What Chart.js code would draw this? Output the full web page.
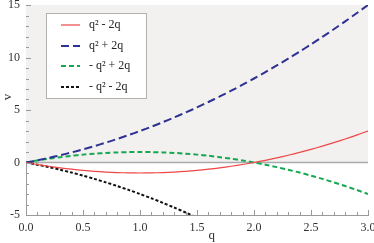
<!DOCTYPE html>
<html>
<head>
<meta charset="utf-8">
<script src="https://cdn.jsdelivr.net/npm/chart.js@4/dist/chart.umd.min.js"></script>
<style>
html,body{margin:0;padding:0;background:#fff;}
#wrap{width:374px;height:243px;position:relative;}
</style>
</head>
<body>
<div id="wrap"><canvas id="c" width="374" height="243"></canvas></div>
<script>
const qValues = [0,0.1,0.2,0.3,0.4,0.5,0.6,0.7,0.8,0.9,1.0,1.1,1.2,1.3,1.4,1.5,1.6,1.7,1.8,1.9,2.0,2.1,2.2,2.3,2.4,2.5,2.6,2.7,2.8,2.9,3.0];
const seriesA = [0,-0.19,-0.36,-0.51,-0.64,-0.75,-0.84,-0.91,-0.96,-0.99,-1,-0.99,-0.96,-0.91,-0.84,-0.75,-0.64,-0.51,-0.36,-0.19,0,0.21,0.44,0.69,0.96,1.25,1.56,1.89,2.24,2.61,3];
const seriesB = [0,0.21,0.44,0.69,0.96,1.25,1.56,1.89,2.24,2.61,3,3.41,3.84,4.29,4.76,5.25,5.76,6.29,6.84,7.41,8,8.61,9.24,9.89,10.56,11.25,11.96,12.69,13.44,14.21,15];
const seriesC = [0,0.19,0.36,0.51,0.64,0.75,0.84,0.91,0.96,0.99,1,0.99,0.96,0.91,0.84,0.75,0.64,0.51,0.36,0.19,0,-0.21,-0.44,-0.69,-0.96,-1.25,-1.56,-1.89,-2.24,-2.61,-3];
const seriesD = [0,-0.21,-0.44,-0.69,-0.96,-1.25,-1.56,-1.89,-2.24,-2.61,-3,-3.41,-3.84,-4.29,-4.76,-5.25,-5.76];
const seriesNames = ['q\u00B2 - 2q','q\u00B2 + 2q','- q\u00B2 + 2q','- q\u00B2 - 2q'];
const yTicks = [-5,0,5,10,15];
const xTicks = [0,0.5,1.0,1.5,2.0,2.5,3.0];

function pts(vals){ return vals.map((v,i)=>({x:qValues[i], y:v})); }

const FONT = '"Liberation Serif"';

const decor = {
  id:'decor',
  beforeDatasetsDraw(chart){
    const {ctx, chartArea:a, scales:{x,y}} = chart;
    ctx.save();
    const y0 = y.getPixelForValue(0), yTop = y.getPixelForValue(15);
    ctx.fillStyle = '#f2f1f0';
    ctx.fillRect(a.left, yTop, a.right - a.left, y0 - yTop);
    ctx.strokeStyle = '#aaaaaa';
    ctx.lineWidth = 1.5;
    ctx.beginPath(); ctx.moveTo(a.left, y0); ctx.lineTo(a.right, y0); ctx.stroke();
    ctx.restore();
  },
  afterDatasetsDraw(chart){
    const {ctx, chartArea:a, scales:{x,y}} = chart;
    ctx.save();
    ctx.strokeStyle = '#999999';
    ctx.lineWidth = 1;
    ctx.beginPath();
    for (let i = -5; i <= 15; i++) {
      const py = Math.round(y.getPixelForValue(i)) + 0.5;
      const len = (i % 5 === 0) ? 5 : 3;
      ctx.moveTo(a.left, py); ctx.lineTo(a.left + len, py);
    }
    for (let i = 0; i <= 30; i++) {
      const px = Math.round(x.getPixelForValue(i/10)) + 0.5;
      const len = (i % 5 === 0) ? 5 : 3;
      ctx.moveTo(px, a.bottom); ctx.lineTo(px, a.bottom - len);
    }
    ctx.stroke();

    // legend
    const bx = 46.5, by = 13.5, bw = 100, bh = 85;
    ctx.fillStyle = '#ffffff';
    ctx.fillRect(bx, by, bw, bh);
    ctx.strokeStyle = '#b0b0b0';
    ctx.lineWidth = 1;
    ctx.strokeRect(bx, by, bw, bh);
    const rows = [25, 46, 66, 87];
    chart.data.datasets.forEach((ds, i) => {
      const ry = rows[i];
      ctx.strokeStyle = ds.borderColor;
      ctx.lineWidth = ds.borderWidth;
      ctx.setLineDash(ds.borderDash || []);
      ctx.beginPath(); ctx.moveTo(61, ry); ctx.lineTo(80, ry); ctx.stroke();
      ctx.setLineDash([]);
      ctx.fillStyle = '#222';
      ctx.font = '12px ' + FONT;
      ctx.textBaseline = 'middle';
      ctx.textAlign = 'left';
      ctx.fillText(ds.label, 89, ry);
    });
    ctx.restore();
  }
};

new Chart(document.getElementById('c'), {
  type: 'line',
  data: {
    datasets: [
      {label: seriesNames[0], data: pts(seriesA), borderColor:'#ef4646', borderWidth:1.2, pointRadius:0, tension:0.3, fill:false},
      {label: seriesNames[1], data: pts(seriesB), borderColor:'#2e3192', borderWidth:2, borderDash:[8,4], pointRadius:0, tension:0.3, fill:false},
      {label: seriesNames[2], data: pts(seriesC), borderColor:'#14a850', borderWidth:2, borderDash:[5,3], pointRadius:0, tension:0.3, fill:false},
      {label: seriesNames[3], data: pts(seriesD), borderColor:'#111111', borderWidth:2, borderDash:[3,2], pointRadius:0, tension:0.3, fill:false}
    ]
  },
  options: {
    responsive: false,
    animation: false,
    events: [],
    layout: {padding: 0},
    plugins: {legend: {display:false}, tooltip: {enabled:false}},
    scales: {
      x: {
        type:'linear', min:0, max:3,
        grid:{display:false, drawTicks:false},
        border:{display:true, color:'#999999'},
        afterBuildTicks(s){ s.ticks = xTicks.map(v=>({value:v})); },
        ticks:{color:'#333', font:{family:FONT, size:12}, padding:6, maxRotation:0, autoSkip:false, callback:v=>Number(v).toFixed(1)},
        title:{display:true, text:'         q', color:'#333', font:{family:FONT, size:13}, padding:{top:0,bottom:0}},
        afterFit(s){ s.height = 28; s.paddingRight = 6; s.paddingLeft = 0; }
      },
      y: {
        type:'linear', min:-5, max:15,
        grid:{display:false, drawTicks:false},
        border:{display:true, color:'#999999'},
        afterBuildTicks(s){ s.ticks = yTicks.map(v=>({value:v})); },
        ticks:{color:'#333', font:{family:FONT, size:12}, padding:6, autoSkip:false},
        title:{display:true, text:'        v', color:'#333', font:{family:FONT, size:13}, padding:{top:0,bottom:0}},
        afterFit(s){ s.width = 26; s.paddingTop = 5; s.paddingBottom = 0; }
      }
    }
  },
  plugins:[decor]
});
</script>
</body>
</html>
